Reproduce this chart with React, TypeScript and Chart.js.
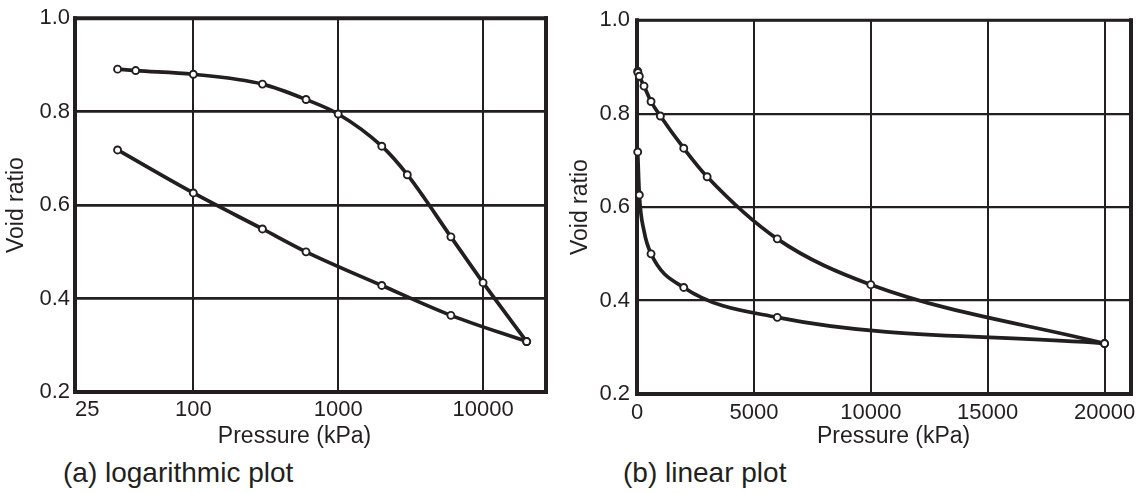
import React, { useEffect, useRef } from 'react';
import { Chart, registerables } from 'chart.js';

Chart.register(...registerables);

// ---- Data ----
const loadingPressure = [30, 40, 100, 300, 600, 1000, 2000, 3000, 6000, 10000, 20000];
const loadingVoidRatio = [0.891, 0.888, 0.88, 0.859, 0.826, 0.795, 0.726, 0.665, 0.532, 0.434, 0.308];
const unloadingPressure = [30, 100, 300, 600, 2000, 6000, 20000];
const unloadingVoidRatio = [0.718, 0.626, 0.549, 0.5, 0.428, 0.364, 0.308];
// markers that are not drawn on the linear plot (hidden by the steep curve)
const linearHiddenUnloadingMarkers = [300];

const yTickValues = [0.2, 0.4, 0.6, 0.8, 1.0];
const logTickLabels = ['25', '100', '1000', '10000'];
const logTickValues = [100, 1000, 10000];
const linTickValues = [0, 5000, 10000, 15000, 20000];

const LOG_MIN = 15.25;
const LOG_MAX = 27200;
const LIN_MIN = 0;
const LIN_MAX = 21130;
const Y_MIN = 0.2;
const Y_MAX = 1.0;

const INK = '#231f20';
const FONT = '"Liberation Sans", Arial, Helvetica, sans-serif';
const TICK_SIZE = 22;
const TITLE_SIZE = 23;

if (typeof document !== 'undefined') {
  document.body.style.margin = '0';
}

const framePlugin = {
  id: 'frame',
  beforeDatasetsDraw(chart: any, _args: any, opts: any) {
    const { ctx, chartArea: a } = chart;
    ctx.save();
    ctx.strokeStyle = opts.color || INK;
    ctx.lineCap = 'square';
    const w = opts.width || 4;
    const tw = opts.topWidth || w;
    ctx.lineWidth = w;
    ctx.beginPath();
    ctx.moveTo(a.right, a.top);
    ctx.lineTo(a.right, a.bottom);
    ctx.lineTo(a.left, a.bottom);
    ctx.lineTo(a.left, a.top);
    ctx.stroke();
    ctx.lineWidth = tw;
    ctx.beginPath();
    ctx.moveTo(a.left, a.top);
    ctx.lineTo(a.right, a.top);
    ctx.stroke();
    ctx.restore();
  },
};

function toPoints(xs: number[], ys: number[]) {
  return xs.map((x, i) => ({ x, y: ys[i] }));
}

function makeDatasets(mode: 'log' | 'linear') {
  const common: any = {
    borderColor: INK,
    borderWidth: 3.7,
    pointRadius: 3.5,
    pointBorderWidth: 1.9,
    pointBackgroundColor: '#ffffff',
    pointBorderColor: INK,
    cubicInterpolationMode: 'monotone',
    fill: false,
    clip: false,
  };
  const unloadingRadius =
    mode === 'linear'
      ? unloadingPressure.map((p) => (linearHiddenUnloadingMarkers.includes(p) ? 0 : 3.5))
      : 3.5;
  return [
    { label: 'Loading', data: toPoints(loadingPressure, loadingVoidRatio), ...common },
    {
      label: 'Unloading',
      data: toPoints(unloadingPressure, unloadingVoidRatio),
      ...common,
      pointRadius: unloadingRadius,
    },
  ];
}

function yScale(width: number, labelPad: number, titlePad: number, gridWidth: number) {
  return {
    type: 'linear' as const,
    min: Y_MIN,
    max: Y_MAX,
    afterBuildTicks: (s: any) => {
      s.ticks = yTickValues.map((v) => ({ value: v }));
    },
    afterFit: (s: any) => {
      s.width = width;
    },
    border: { display: false },
    grid: { color: INK, lineWidth: gridWidth, drawTicks: false },
    ticks: {
      color: INK,
      padding: labelPad,
      font: { family: FONT, size: TICK_SIZE },
      callback: (v: any) => Number(v).toFixed(1),
    },
    title: {
      display: true,
      text: 'Void ratio',
      color: INK,
      font: { family: FONT, size: TITLE_SIZE },
      padding: { top: titlePad, bottom: 0 },
    },
  };
}

function baseOptions(extra: any) {
  return {
    responsive: false,
    animation: false as const,
    events: [] as any,
    plugins: {
      legend: { display: false },
      tooltip: { enabled: false },
      frame: extra.frame,
    },
    layout: { padding: extra.padding },
    scales: extra.scales,
  };
}

function LogChart() {
  const ref = useRef<HTMLCanvasElement | null>(null);
  useEffect(() => {
    if (!ref.current) return;
    const chart = new Chart(ref.current, {
      type: 'line',
      data: { datasets: makeDatasets('log') as any },
      plugins: [framePlugin],
      options: baseOptions({
        frame: { width: 4, topWidth: 4 },
        padding: { top: 18, right: 14, left: 0, bottom: 0 },
        scales: {
          x: {
            type: 'logarithmic',
            min: LOG_MIN,
            max: LOG_MAX,
            afterBuildTicks: (s: any) => {
              s.ticks = [
                { value: LOG_MIN },
                ...logTickValues.map((v) => ({ value: v })),
                { value: LOG_MAX },
              ];
            },
            afterFit: (s: any) => {
              s.height = 58;
            },
            border: { display: false },
            grid: { color: INK, lineWidth: 2, drawTicks: false },
            ticks: {
              color: INK,
              padding: 5,
              align: 'inner',
              maxRotation: 0,
              autoSkip: false,
              font: { family: FONT, size: TICK_SIZE },
              callback: (_v: any, i: number) => (i < logTickLabels.length ? logTickLabels[i] : ''),
            },
            title: {
              display: true,
              text: 'Pressure (kPa)     ',
              color: INK,
              font: { family: FONT, size: TITLE_SIZE },
              padding: { top: 0, bottom: 0 },
            },
          },
          y: yScale(75, 5, 3, 2.7),
        },
      }) as any,
    });
    return () => chart.destroy();
  }, []);
  return (
    <canvas
      ref={ref}
      width={560}
      height={450}
      style={{ position: 'absolute', left: 0, top: 0, width: 560, height: 450 }}
    />
  );
}

function LinearChart() {
  const ref = useRef<HTMLCanvasElement | null>(null);
  useEffect(() => {
    if (!ref.current) return;
    const chart = new Chart(ref.current, {
      type: 'line',
      data: { datasets: makeDatasets('linear') as any },
      plugins: [framePlugin],
      options: baseOptions({
        frame: { width: 4, topWidth: 3 },
        padding: { top: 19, right: 17, left: 0, bottom: 0 },
        scales: {
          x: {
            type: 'linear',
            min: LIN_MIN,
            max: LIN_MAX,
            afterBuildTicks: (s: any) => {
              s.ticks = linTickValues.map((v) => ({ value: v }));
            },
            afterFit: (s: any) => {
              s.height = 56;
            },
            border: { display: false },
            grid: { color: INK, lineWidth: 2, drawTicks: false },
            ticks: {
              color: INK,
              padding: 6,
              maxRotation: 0,
              autoSkip: false,
              font: { family: FONT, size: TICK_SIZE },
              callback: (v: any) => String(v),
            },
            title: {
              display: true,
              text: '   Pressure (kPa)',
              color: INK,
              font: { family: FONT, size: TITLE_SIZE },
              padding: { top: 0, bottom: 0 },
            },
          },
          y: yScale(77, 7, 7, 2.2),
        },
      }) as any,
    });
    return () => chart.destroy();
  }, []);
  return (
    <canvas
      ref={ref}
      width={588}
      height={450}
      style={{ position: 'absolute', left: 560, top: 0, width: 588, height: 450 }}
    />
  );
}

const captionStyle: React.CSSProperties = {
  position: 'absolute',
  top: 459,
  fontFamily: FONT,
  fontSize: 28,
  lineHeight: '28px',
  color: INK,
  whiteSpace: 'nowrap',
};

export default function App() {
  return (
    <div style={{ position: 'relative', width: 1148, height: 493, background: '#ffffff', overflow: 'hidden' }}>
      <LogChart />
      <LinearChart />
      <div style={{ ...captionStyle, left: 63 }}>(a) logarithmic plot</div>
      <div style={{ ...captionStyle, left: 623 }}>(b) linear plot</div>
    </div>
  );
}
